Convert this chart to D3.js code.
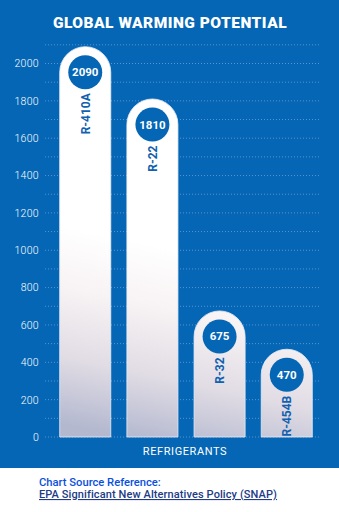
<!DOCTYPE html>
<html>
<head>
<meta charset="utf-8">
<script src="https://cdn.jsdelivr.net/npm/d3@7"></script>
<style>
  body { margin: 0; background: #fff; }
  svg { display: block; }
</style>
</head>
<body>
<div id="chart"><svg></svg></div>
<script>
let width = 339;
let height = 512;

// data
let refrigerants = ['R-410A', 'R-22', 'R-32', 'R-454B'];
let gwp = [2090, 1810, 675, 470];
let tickValues = [0, 200, 400, 600, 800, 1000, 1200, 1400, 1600, 1800, 2000];
let gridValues = d3.range(0, 2200, 100);

let fontFamily = 'Roboto, "Liberation Sans", sans-serif';
let blue = '#0466b4';

function main() {
    let svg = d3.select('#chart').select('svg')
        .attr('width', width)
        .attr('height', height)
        .style('font-family', fontFamily);

    // blue panel
    svg.append('rect')
        .attr('x', 0).attr('y', 0)
        .attr('width', width).attr('height', 468)
        .attr('fill', blue);

    let defs = svg.append('defs');
    let grad = defs.append('linearGradient')
        .attr('id', 'barFill')
        .attr('gradientUnits', 'userSpaceOnUse')
        .attr('x1', 200).attr('y1', 255)
        .attr('x2', 160).attr('y2', 445);
    grad.append('stop').attr('offset', 0).attr('stop-color', '#ffffff');
    grad.append('stop').attr('offset', 0.3).attr('stop-color', '#f8f3f4');
    grad.append('stop').attr('offset', 0.65).attr('stop-color', '#e2dde5');
    grad.append('stop').attr('offset', 1).attr('stop-color', '#b3b8cf');

    let x = d3.scaleBand()
        .domain(refrigerants)
        .range([53, 319])
        .paddingInner(0.24)
        .paddingOuter(0.1);

    let y = d3.scaleLinear()
        .domain([0, 2000])
        .range([437, 63.5]);

    // title
    svg.append('text')
        .attr('x', 170)
        .attr('y', 28)
        .attr('text-anchor', 'middle')
        .attr('fill', '#fff')
        .attr('font-weight', 900)
        .attr('font-size', 15.5)
        .attr('letter-spacing', 0.5)
        .text('GLOBAL WARMING POTENTIAL');

    // grid lines
    svg.append('g')
        .selectAll('line')
        .data(gridValues)
        .join('line')
        .attr('x1', 45).attr('x2', 320)
        .attr('y1', d => y(d)).attr('y2', d => y(d))
        .attr('stroke', '#6f9fd6')
        .attr('stroke-width', 0.8)
        .attr('stroke-dasharray', '1,2');

    // y axis labels
    let yAxis = d3.axisLeft(y).tickValues(tickValues).tickSize(0).tickPadding(0)
        .tickFormat(d3.format('d'));
    let ya = svg.append('g')
        .attr('transform', 'translate(39,0)')
        .call(yAxis);
    ya.select('.domain').remove();
    ya.selectAll('text')
        .attr('fill', '#fff')
        .attr('font-size', 10.5)
        .attr('font-weight', 300)
        .attr('letter-spacing', 0.3)
        .attr('font-family', fontFamily);

    let bw = x.bandwidth();
    let r = bw / 2;

    // bars with rounded tops
    let bars = svg.append('g')
        .selectAll('g')
        .data(refrigerants)
        .join('g');

    bars.append('path')
        .attr('d', (d, i) => {
            let x0 = x(d), x1 = x0 + bw, top = y(gwp[i]), base = y(0);
            return `M${x0},${base} L${x0},${top + r} A${r},${r} 0 0 1 ${x1},${top + r} L${x1},${base} Z`;
        })
        .attr('fill', 'url(#barFill)')
        .attr('stroke', '#e8ecf6')
        .attr('stroke-width', 0.8);

    bars.append('circle')
        .attr('cx', d => x(d) + r)
        .attr('cy', (d, i) => y(gwp[i]) + r)
        .attr('r', 17)
        .attr('fill', blue);

    bars.append('text')
        .attr('x', d => x(d) + r)
        .attr('y', (d, i) => y(gwp[i]) + r + 4)
        .attr('text-anchor', 'middle')
        .attr('fill', '#fff')
        .attr('font-weight', 'bold')
        .attr('font-size', 11.5)
        .text((d, i) => gwp[i]);

    bars.append('text')
        .attr('transform', (d, i) => `translate(${x(d) + r + 4.5},${y(gwp[i]) + r + 21}) rotate(-90)`)
        .attr('text-anchor', 'end')
        .attr('fill', '#1161b0')
        .attr('font-weight', 'bold')
        .attr('font-size', 12)
        .text(d => d);

    // x axis title
    svg.append('text')
        .attr('x', 185)
        .attr('y', 455)
        .attr('text-anchor', 'middle')
        .attr('fill', '#fff')
        .attr('font-size', 11)
        .attr('letter-spacing', 0.6)
        .text('REFRIGERANTS');

    // source
    svg.append('text')
        .attr('x', 39)
        .attr('y', 486)
        .attr('fill', '#0a4fe0')
        .attr('font-size', 11.2)
        .attr('font-weight', 500)
        .text('Chart Source Reference:');

    svg.append('text')
        .attr('x', 39)
        .attr('y', 498)
        .attr('fill', '#213b86')
        .attr('font-size', 11)
        .attr('font-weight', 500)
        .attr('letter-spacing', 0.1)
        .attr('text-decoration', 'underline')
        .text('EPA Significant New Alternatives Policy (SNAP)');
}
main();
</script>
</body>
</html>
